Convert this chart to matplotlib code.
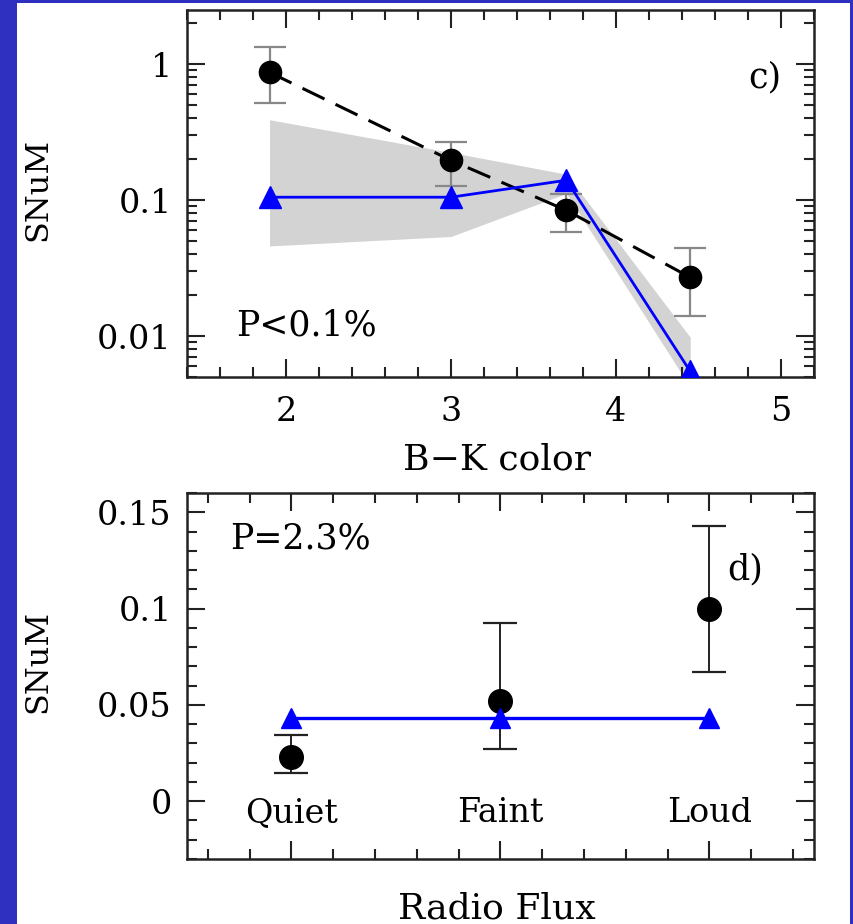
import numpy as np
import matplotlib.pyplot as plt
from matplotlib.patches import Rectangle
from matplotlib.ticker import MultipleLocator, LogLocator, FixedLocator, NullFormatter

# Dane - panel c) (kolor B-K)
bk = [1.9, 3.0, 3.7, 4.45]
snum_obs = [0.87, 0.196, 0.084, 0.027]
snum_lo = [0.515, 0.126, 0.0586, 0.0141]
snum_hi = [1.33, 0.266, 0.110, 0.0446]
snum_model = [0.105, 0.105, 0.140, 0.0055]
band_lo = [0.046, 0.054, 0.112, 0.0042]
band_hi = [0.39, 0.224, 0.155, 0.0098]

# Dane - panel d) (strumien radiowy)
radio_x = [1, 2, 3]
radio_names = ['Quiet', 'Faint', 'Loud']
radio_obs = [0.023, 0.052, 0.100]
radio_lo = [0.0149, 0.0269, 0.0673]
radio_hi = [0.0346, 0.0925, 0.143]
radio_model = [0.043, 0.043, 0.043]

plt.rcParams['font.family'] = 'DejaVu Serif'

fig = plt.figure(figsize=(8.54, 9.24), dpi=100, facecolor='#3030c0')
# biale tlo slajdu (niebieska ramka z lewej i u gory)
fig.patches.append(Rectangle((17/854, 0), (850-17)/854, (924-3)/924,
                             transform=fig.transFigure, facecolor='white',
                             edgecolor='none', zorder=-10))

ax1 = fig.add_axes([187/854, 1-377/924, 627/854, 367/924])
ax2 = fig.add_axes([187/854, 1-859/924, 627/854, 366/924])

for ax in (ax1, ax2):
    ax.tick_params(which='both', direction='in', top=True, right=True,
                   width=1.5, colors='#222222', labelcolor='black', labelsize=24)
    ax.tick_params(which='major', length=13)
    ax.tick_params(which='minor', length=7)
    ax.tick_params(axis='x', pad=14)
    ax.tick_params(axis='y', pad=11)
    for s in ax.spines.values():
        s.set_linewidth(1.8)
        s.set_color('#222222')

# ------------------------------
# panel c)
# ------------------------------
obs = np.array(snum_obs)
ax1.fill_between(bk, band_lo, band_hi, color='#d3d3d3', lw=0, zorder=1)
ax1.plot(bk, snum_obs, color='black', lw=2.2, dashes=(8, 4), zorder=2)
ax1.errorbar(bk, snum_obs, yerr=[obs - np.array(snum_lo), np.array(snum_hi) - obs],
             fmt='none', ecolor='#888888', elinewidth=1.6, capsize=11.5, capthick=1.6, zorder=3)
ax1.plot(bk, snum_obs, 'o', color='black', ms=16, zorder=4)
ax1.plot(bk, snum_model, color='#0000ff', lw=2, marker='^', ms=16, zorder=5)

ax1.set_yscale('log')
ax1.set_xlim(1.4, 5.2)
ax1.set_ylim(0.005, 2.5)
ax1.xaxis.set_major_locator(FixedLocator([2, 3, 4, 5]))
ax1.xaxis.set_minor_locator(MultipleLocator(0.2))
ax1.yaxis.set_major_locator(FixedLocator([0.01, 0.1, 1]))
ax1.set_yticklabels(['0.01', '0.1', '1'])
ax1.yaxis.set_minor_locator(LogLocator(base=10, subs=np.arange(2, 10)))
ax1.yaxis.set_minor_formatter(NullFormatter())

ax1.text(0.922, 0.817, 'c)', transform=ax1.transAxes, fontsize=25, ha='center', va='center')
ax1.text(0.078, 0.139, 'P<0.1%', transform=ax1.transAxes, fontsize=25, ha='left', va='center')
ax1.set_ylabel('SNuM', fontsize=23, va='center')
ax1.yaxis.set_label_coords(-0.2376, 0.51)
ax1.set_xlabel('B\u2212K color', fontsize=26, va='center')
ax1.xaxis.set_label_coords(0.494, -0.226)

# ------------------------------
# panel d)
# ------------------------------
robs = np.array(radio_obs)
ax2.errorbar(radio_x, radio_obs, yerr=[robs - np.array(radio_lo), np.array(radio_hi) - robs],
             fmt='none', ecolor='#222222', elinewidth=1.4, capsize=12, capthick=1.6, zorder=3)
ax2.plot(radio_x, radio_obs, 'o', color='black', ms=17, zorder=4)
ax2.plot(radio_x, radio_model, color='#0000ff', lw=2.4, marker='^', ms=15, zorder=5)

ax2.set_xlim(0.5, 3.5)
ax2.set_ylim(-0.03, 0.16)
ax2.xaxis.set_major_locator(FixedLocator(radio_x))
ax2.xaxis.set_minor_locator(MultipleLocator(0.2))
ax2.set_xticklabels([])
ax2.yaxis.set_major_locator(FixedLocator([0, 0.05, 0.1, 0.15]))
ax2.set_yticklabels(['0', '0.05', '0.1', '0.15'])
ax2.yaxis.set_minor_locator(MultipleLocator(0.01))

for x, name in zip(radio_x, radio_names):
    ax2.text(x, -0.011, name, fontsize=24, ha='center', va='baseline')

ax2.text(0.89, 0.79, 'd)', transform=ax2.transAxes, fontsize=25, ha='center', va='center')
ax2.text(0.069, 0.877, 'P=2.3%', transform=ax2.transAxes, fontsize=25, ha='left', va='center')
ax2.set_ylabel('SNuM', fontsize=23, va='center')
ax2.yaxis.set_label_coords(-0.2376, 0.541)
ax2.set_xlabel('Radio Flux', fontsize=26, va='center')
ax2.xaxis.set_label_coords(0.494, -0.134)

plt.savefig('out.png', dpi=100)
